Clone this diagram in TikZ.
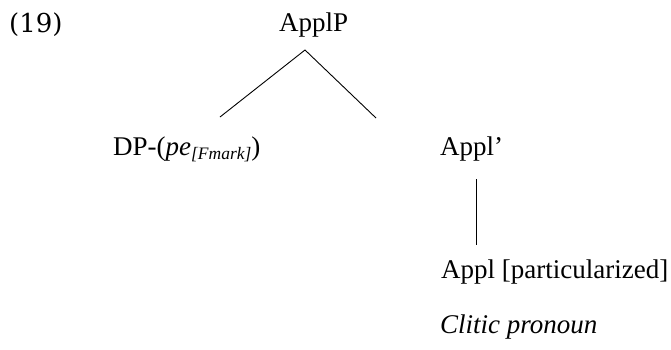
\documentclass[tikz,border=0pt]{standalone}
\usepackage{fontspec}
\setmainfont{Liberation Serif}
\newfontfamily\exnumfont{DejaVu Serif}
\begin{document}
\begin{tikzpicture}[x=1pt,y=1pt,
  lbl/.style={anchor=base west,inner sep=0pt,font=\fontsize{27}{32}\selectfont},
  branch/.style={line width=0.9pt}]
\useasboundingbox (0,0) rectangle (671,-349);
% example number
\node[anchor=base west,inner sep=0pt,font=\exnumfont\fontsize{26}{30}\selectfont] (num) at (9,-32) {(19)};
% tree labels
\node[lbl] (applP) at (279,-31) {ApplP};
\node[lbl] (dp) at (113,-155) {DP-(\textit{pe}{\fontsize{17.5}{20}\selectfont\raisebox{-4.5pt}{\textit{[Fmark]}}})};
\node[lbl] (applbar) at (440,-155) {Appl’};
\node[lbl] (appl) at (441,-278) {Appl [particularized]};
\node[lbl] (clitic) at (440,-333) {\textit{Clitic pronoun}};
% branch end points
\coordinate (apex) at (305,-50);
\coordinate (lend) at (220,-117);
\coordinate (rend) at (376,-118);
\coordinate (vtop) at (476,-179);
\coordinate (vbot) at (476,-245);
\draw[branch] (lend) -- (apex) -- (rend);
\draw[branch] (vtop) -- (vbot);
\end{tikzpicture}
\end{document}
